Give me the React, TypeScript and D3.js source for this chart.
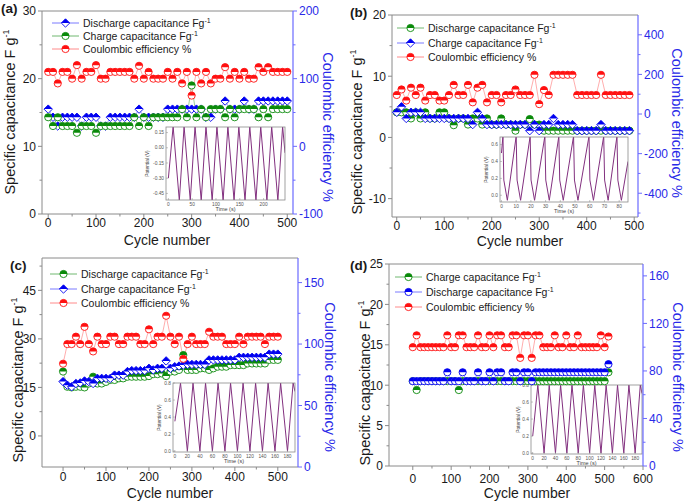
import React from 'react';
import * as d3 from 'd3';

// ---------------- DATA ----------------
const cyclesA = [0,10,20,30,40,50,60,70,80,90,100,110,120,130,140,150,160,170,180,190,200,210,220,230,240,250,260,270,280,290,300,310,320,330,340,350,360,370,380,390,400,410,420,430,440,450,460,470,480,490,500];
const aDischarge = [15.5,14.3,13,14.3,14.3,14.3,14.3,13,14.3,14.3,14.3,13,13,14.3,14.3,14.3,14.3,14.3,14.3,15.5,14.3,14.3,14.3,14.3,14.3,15.5,15.5,15.5,15.5,15.5,15.5,15.5,15.5,14.3,14.3,15.5,15.5,16.7,15.5,15.5,15.5,16.7,15.5,15.5,16.7,16.7,16.7,16.7,16.7,16.7,16.7];
const aCharge = [14.3,13,14.3,13,13,13,12,13,13,13,12,13,13,13,13,13,13,13,14.3,13,14.3,13,14.3,14.3,14.3,14.3,14.3,14.3,15.5,14.3,19,14.3,15.5,14.3,15.5,15.5,15.5,14.3,15.5,14.3,15.5,15.5,15.5,15.5,14.3,15.5,14.3,15.5,15.5,15.5,15.5];
const aCE = [110,110,93,110,110,100,120,100,110,110,120,100,100,110,110,110,110,110,100,119,100,110,100,100,100,110,100,110,93,110,75,110,93,110,93,100,100,117,100,110,100,110,100,100,117,110,117,110,110,110,110];

const cyclesB = [0,10,20,30,40,50,60,70,80,90,100,110,120,130,140,150,160,170,180,190,200,210,220,230,240,250,260,270,280,290,300,310,320,330,340,350,360,370,380,390,400,410,420,430,440,450,460,470,480,490];
const bDischarge = [4.1,4.1,4.1,3.1,4.1,3.1,4.1,3.1,3.1,4.1,4.1,3.1,2.0,3.1,3.1,2.1,3.1,3.1,2.1,3.1,2.1,2.1,3.1,2.1,2.1,1.1,2.1,2.1,3.0,2.1,2.1,1.1,1.1,1.1,1.1,1.1,1.1,1.1,1.1,1.1,1.1,1.1,1.1,1.1,1.1,1.1,1.1,1.1,1.1,1.1];
const bCharge = [4.1,5.0,3.1,4.1,4.1,4.1,3.1,3.1,3.1,3.1,3.1,3.1,3.1,3.1,3.1,3.1,2.1,4.1,3.1,2.1,2.1,2.1,2.1,2.1,2.1,2.1,2.1,2.1,1.1,2.1,1.1,2.1,2.1,3.1,2.1,2.1,2.1,2.1,1.1,1.1,1.1,1.1,1.1,2.1,1.1,1.1,1.1,1.1,1.1,1.1];
const bCE = [96,124,68,133,96,133,68,96,96,68,68,96,147,96,96,147,59,133,147,59,96,96,59,96,96,124,96,96,96,198,50,121,96,198,198,198,198,198,96,96,96,96,96,198,96,96,96,96,96,96];

const cyclesC = [0,10,20,30,40,50,60,70,80,90,100,110,120,130,140,150,160,170,180,190,200,210,220,230,240,250,260,270,280,290,300,310,320,330,340,350,360,370,380,390,400,410,420,430,440,450,460,470,480,490,500];
const cDischarge = [19.9,15.2,15.0,15.2,15.2,15.0,16.2,18.3,16.2,16.2,16.7,17.3,17.3,17.8,17.8,18.3,18.3,18.3,18.3,18.3,18.5,19.1,19.1,19.3,18.5,19.9,19.9,20.4,25.0,20.4,20.4,20.4,20.9,20.9,20.4,20.9,21.4,21.4,21.4,21.9,21.9,21.9,21.9,22.4,22.4,22.4,22.4,22.4,23.5,23.5,23.5];
const cCharge = [16.8,15.7,15.2,16.2,16.4,17.0,16.8,16.2,17.8,17.8,17.8,17.8,18.8,18.8,18.8,19.9,20.2,20.2,20.2,20.2,20.9,20.4,20.9,20.9,23.2,20.9,21.4,21.6,21.9,22.1,22.1,22.1,22.1,22.1,23.5,23.5,23.5,23.5,23.5,23.5,23.5,24.3,24.3,24.3,24.3,24.3,24.3,24.3,25.3,25.3,25.3];
const cCE = [84,100,100,106,100,114,100,94,106,100,100,106,106,100,100,106,106,106,100,100,112,100,106,106,123,106,100,106,88,100,106,100,100,100,110,106,106,106,100,100,100,106,100,106,106,106,106,100,106,106,106];

const cyclesD = [0,10,20,30,40,50,60,70,80,90,100,110,120,130,140,150,160,170,180,190,200,210,220,230,240,250,260,270,280,290,300,310,320,330,340,350,360,370,380,390,400,410,420,430,440,450,460,470,480,490,500,510];
const dCharge = [10.5,9.4,10.5,10.5,10.5,10.5,10.5,10.5,10.5,10.5,10.5,10.5,9.4,10.5,10.5,10.5,10.5,10.5,10.5,10.5,10.5,10.5,10.5,10.5,10.5,10.5,10.5,10.5,10.5,10.5,10.5,10.5,10.5,10.5,10.5,10.5,10.5,10.5,10.5,10.5,10.5,10.5,10.5,10.5,10.5,10.5,10.5,10.5,10.5,10.5,10.5,11.6];
const dDischarge = [10.5,10.5,10.5,10.5,10.5,10.5,10.5,10.5,10.5,11.6,10.5,10.5,10.5,11.6,10.5,10.5,10.5,11.6,10.5,10.5,11.6,10.5,11.6,11.6,10.5,10.5,11.6,11.6,10.5,11.6,11.6,10.5,11.6,11.6,11.6,11.6,11.6,11.6,11.6,11.6,11.6,11.6,11.6,11.6,11.6,11.6,11.6,11.6,11.6,11.6,11.6,12.6];
const dCE = [100,110,100,100,100,100,100,100,100,110,100,100,110,110,100,100,100,110,100,100,110,100,110,110,100,100,110,110,91,110,110,91,110,110,100,100,100,110,100,100,110,100,100,110,100,100,100,100,100,110,100,109];

// inset waveforms (time s, potential V) vertices
const insetAT = [0,10,23,33,46,56,69,79,92,102,115,125,138,148,161,171,184,194,207,217,230,240,245];
const insetAV = [-0.30,0.21,-0.52,0.21,-0.52,0.21,-0.52,0.21,-0.52,0.21,-0.52,0.21,-0.52,0.21,-0.52,0.21,-0.52,0.21,-0.52,0.21,-0.52,0.21,-0.05];
const insetBT = [0,1,1.6,4,10,10.6,13,19.5,20.1,22.5,29.5,30.1,32.5,39,39.6,42,49,49.6,52,59.5,60.1,62.5,69.5,70.1,72.5,78.5,79.1,81.5,86];
const insetBV = [0.5,0.7,0.18,-0.06,0.7,0.18,-0.06,0.7,0.18,-0.06,0.7,0.18,-0.06,0.7,0.18,-0.06,0.7,0.18,-0.06,0.7,0.18,-0.06,0.7,0.18,-0.06,0.7,0.18,-0.06,0.4];
const insetCT = [0,9,20,29,40,49,60,69,80,89,100,109,120,129,140,149,160,169,180,189,192];
const insetCV = [0.35,0.8,0,0.8,0,0.8,0,0.8,0,0.8,0,0.8,0,0.8,0,0.8,0,0.8,0,0.8,0.7];
const insetDT = [0,9,20,29,40,49,60,69,80,89,100,109,120,129,140,149,160,169,180,189,192];
const insetDV = [0.2,0.8,0,0.8,0,0.8,0,0.8,0,0.8,0,0.8,0,0.8,0,0.8,0,0.8,0,0.8,0.7];

// tick label lists
const xTicks500 = [0,100,200,300,400,500];
const xTicks600 = [0,100,200,300,400,500,600];

// ---------------- STYLE ----------------
const FONT = '"Liberation Sans", Arial, sans-serif';
const BLUE = '#0000f0';
const GREEN = '#0a8a0a';
const RED = '#ff1010';
const BLUE_L = '#7a7aff';
const GREEN_L = '#70b870';
const RED_L = '#ff8a8a';
const AXIS_R = '#6a6aff';
const AXIS_R_TXT = '#2a2ae8';
const FRAME = '#8a8a8a';
const PURPLE = '#82307f';

type Series = { name: string; x: number[]; y: number[]; color: string; line: string; shape: 'circle' | 'diamond'; axis: 'L' | 'R' };

function Marker({ cx, cy, color, shape }: { cx: number; cy: number; color: string; shape: string }) {
  if (shape === 'diamond') {
    const w = 4.2, h = 4.2;
    return (
      <g>
        <path d={`M${cx},${cy - h}L${cx + w},${cy}L${cx},${cy + h}L${cx - w},${cy}Z`} fill="#fff" stroke={color} strokeWidth={0.9} />
        <path d={`M${cx - w},${cy}L${cx},${cy - h}L${cx + w},${cy}Z`} fill={color} />
      </g>
    );
  }
  const r = 3.6;
  return (
    <g>
      <circle cx={cx} cy={cy} r={r} fill="#fff" stroke={color} strokeWidth={0.9} />
      <path d={`M${cx - r},${cy}A${r},${r} 0 0 1 ${cx + r},${cy}Z`} fill={color} />
    </g>
  );
}

type Inset = { l: number; r: number; t: number; b: number; xd: [number, number]; yd: [number, number]; xt: number[]; yt: number[]; yfmt: (v: number) => string; T: number[]; V: number[]; id: string; labOff: number };

function InsetChart({ c }: { c: Inset }) {
  const x = d3.scaleLinear().domain(c.xd).range([c.l, c.r]);
  const y = d3.scaleLinear().domain(c.yd).range([c.b, c.t]);
  const pts: [number, number][] = c.T.map((t, i) => [t, c.V[i]]);
  const line = d3.line<[number, number]>().x(d => x(d[0])).y(d => y(d[1]));
  return (
    <g>
      <defs>
        <clipPath id={c.id}><rect x={c.l} y={c.t} width={c.r - c.l} height={c.b - c.t} /></clipPath>
      </defs>
      <path d={line(pts) || ''} fill="none" stroke={PURPLE} strokeWidth={1} clipPath={`url(#${c.id})`} />
      <rect x={c.l} y={c.t} width={c.r - c.l} height={c.b - c.t} fill="none" stroke={FRAME} strokeWidth={0.8} />
      {c.xt.map(v => (
        <g key={'x' + v}>
          <line x1={x(v)} x2={x(v)} y1={c.b} y2={c.b - 2} stroke={FRAME} strokeWidth={0.5} />
          <text x={x(v)} y={c.b + 5.5} fontSize={4.8} textAnchor="middle" fill="#555" fontFamily={FONT}>{v}</text>
        </g>
      ))}
      {c.yt.map(v => (
        <g key={'y' + v}>
          <line x1={c.l} x2={c.l + 2} y1={y(v)} y2={y(v)} stroke={FRAME} strokeWidth={0.5} />
          <text x={c.l - 2} y={y(v) + 1.7} fontSize={4.8} textAnchor="end" fill="#555" fontFamily={FONT}>{c.yfmt(v)}</text>
        </g>
      ))}
      <text x={(c.l + c.r) / 2} y={c.b + 11} fontSize={5.5} textAnchor="middle" fill="#444" fontFamily={FONT}>Time (s)</text>
      <text transform={`translate(${c.l - c.labOff},${(c.t + c.b) / 2}) rotate(-90)`} fontSize={4.8} textAnchor="middle" fill="#444" fontFamily={FONT}>Potential (V)</text>
    </g>
  );
}

type PanelCfg = {
  l: number; r: number; t: number; b: number;
  xd: [number, number]; xt: number[]; xm: number[];
  yLd: [number, number]; yLt: number[]; yLm: number[];
  yRd: [number, number]; yRt: number[]; yRm: number[];
  series: Series[];
  legX: number; legY: number[];
  yLTitle: [number, number]; yRTitle: [number, number]; xTitle: [number, number];
  letter: string; letterPos: [number, number];
  xLabY: number;
  inset: Inset;
};

function Panel({ p }: { p: PanelCfg }) {
  const x = d3.scaleLinear().domain(p.xd).range([p.l, p.r]);
  const yL = d3.scaleLinear().domain(p.yLd).range([p.b, p.t]);
  const yR = d3.scaleLinear().domain(p.yRd).range([p.b, p.t]);
  const ln = (s: Series) => {
    const ys = s.axis === 'L' ? yL : yR;
    return d3.line<number>().x((_, i) => x(s.x[i])).y(v => ys(v))(s.y) || '';
  };
  return (
    <g fontFamily={FONT}>
      <InsetChart c={p.inset} />
      {/* frame */}
      <line x1={p.l} x2={p.r} y1={p.t} y2={p.t} stroke={FRAME} strokeWidth={1} />
      <line x1={p.l} x2={p.r} y1={p.b} y2={p.b} stroke={FRAME} strokeWidth={1} />
      <line x1={p.l} x2={p.l} y1={p.t} y2={p.b} stroke={FRAME} strokeWidth={1} />
      <line x1={p.r} x2={p.r} y1={p.t} y2={p.b} stroke={AXIS_R} strokeWidth={1.2} />
      {/* x ticks */}
      {p.xt.map(v => (
        <g key={'xt' + v}>
          <line x1={x(v)} x2={x(v)} y1={p.b} y2={p.b + 4} stroke={FRAME} />
          <text x={x(v)} y={p.xLabY} fontSize={12} textAnchor="middle" fill="#1a1a1a">{v}</text>
        </g>
      ))}
      {p.xm.map(v => <line key={'xm' + v} x1={x(v)} x2={x(v)} y1={p.b} y2={p.b + 2.5} stroke={FRAME} />)}
      {/* left ticks */}
      {p.yLt.map(v => (
        <g key={'yl' + v}>
          <line x1={p.l - 4} x2={p.l} y1={yL(v)} y2={yL(v)} stroke={FRAME} />
          <text x={p.l - 6} y={yL(v) + 4.3} fontSize={12} textAnchor="end" fill="#1a1a1a">{v}</text>
        </g>
      ))}
      {p.yLm.map(v => <line key={'ylm' + v} x1={p.l - 2.5} x2={p.l} y1={yL(v)} y2={yL(v)} stroke={FRAME} />)}
      {/* right ticks */}
      {p.yRt.map(v => (
        <g key={'yr' + v}>
          <line x1={p.r} x2={p.r + 4} y1={yR(v)} y2={yR(v)} stroke={AXIS_R} />
          <text x={p.r + 6} y={yR(v) + 4.3} fontSize={12} textAnchor="start" fill={AXIS_R_TXT}>{v}</text>
        </g>
      ))}
      {p.yRm.map(v => <line key={'yrm' + v} x1={p.r} x2={p.r + 2.5} y1={yR(v)} y2={yR(v)} stroke={AXIS_R} />)}
      {/* series lines */}
      {p.series.map(s => <path key={'l' + s.name} d={ln(s)} fill="none" stroke={s.line} strokeWidth={0.7} />)}
      {/* markers */}
      {p.series.map(s => (
        <g key={'m' + s.name}>
          {s.y.map((v, i) => (
            <Marker key={i} cx={x(s.x[i])} cy={(s.axis === 'L' ? yL : yR)(v)} color={s.color} shape={s.shape} />
          ))}
        </g>
      ))}
      {/* legend */}
      {p.series.map((s, i) => (
        <g key={'lg' + s.name}>
          <line x1={p.legX} x2={p.legX + 27} y1={p.legY[i]} y2={p.legY[i]} stroke={s.line} strokeWidth={1} />
          <Marker cx={p.legX + 13.5} cy={p.legY[i]} color={s.color} shape={s.shape} />
          <text x={p.legX + 31} y={p.legY[i] + 3.8} fontSize={10.5} fill="#1a1a1a">
            {s.name.endsWith('Fg') ? (<>{s.name}<tspan dy={-4} fontSize={7}>-1</tspan></>) : s.name}
          </text>
        </g>
      ))}
      {/* titles */}
      <text transform={`translate(${p.yLTitle[0]},${p.yLTitle[1]}) rotate(-90)`} fontSize={14.5} textAnchor="middle" fill="#1a1a1a">
        Specific capacitance F g<tspan dy={-6} fontSize={9}>-1</tspan>
      </text>
      <text transform={`translate(${p.yRTitle[0]},${p.yRTitle[1]}) rotate(90)`} fontSize={14.5} textAnchor="middle" fill={AXIS_R_TXT}>
        Coulombic efficiency %
      </text>
      <text x={p.xTitle[0]} y={p.xTitle[1]} fontSize={14} textAnchor="middle" fill="#1a1a1a">Cycle number</text>
      <text x={p.letterPos[0]} y={p.letterPos[1]} fontSize={13.5} fontWeight="bold" fill="#1a1a1a">{p.letter}</text>
    </g>
  );
}

const fmt2 = (v: number) => v.toFixed(2);
const fmt1 = (v: number) => v.toFixed(1);

const panels: PanelCfg[] = [
  {
    l: 42, r: 293, t: 11, b: 214,
    xd: [-13, 512], xt: xTicks500, xm: [50, 150, 250, 350, 450],
    yLd: [0, 30], yLt: [0, 10, 20, 30], yLm: [5, 15, 25],
    yRd: [-100, 200], yRt: [-100, 0, 100, 200], yRm: [-50, 50, 150],
    series: [
      { name: 'Discharge capacitance Fg', x: cyclesA, y: aDischarge, color: BLUE, line: BLUE_L, shape: 'diamond', axis: 'L' },
      { name: 'Charge capacitance Fg', x: cyclesA, y: aCharge, color: GREEN, line: GREEN_L, shape: 'circle', axis: 'L' },
      { name: 'Coulombic efficiency %', x: cyclesA, y: aCE, color: RED, line: RED_L, shape: 'circle', axis: 'R' },
    ],
    legX: 52, legY: [23, 36, 49],
    yLTitle: [15, 112], yRTitle: [323, 127], xTitle: [167, 245],
    letter: '(a)', letterPos: [1, 13], xLabY: 227,
    inset: { l: 166, r: 285, t: 127, b: 200, xd: [-5, 245], yd: [-0.515, 0.205], xt: [0, 50, 100, 150, 200], yt: [0.15, 0, -0.15, -0.30, -0.45], yfmt: fmt2, T: insetAT, V: insetAV, id: 'ia', labOff: 17 },
  },
  {
    l: 392, r: 638, t: 15, b: 217,
    xd: [-10, 508], xt: xTicks500, xm: [50, 150, 250, 350, 450],
    yLd: [-13, 20], yLt: [-10, 0, 10, 20], yLm: [-5, 5, 15],
    yRd: [-520, 500], yRt: [-400, -200, 0, 200, 400], yRm: [-500, -300, -100, 100, 300],
    series: [
      { name: 'Discharge capacitance Fg', x: cyclesB, y: bDischarge, color: GREEN, line: GREEN_L, shape: 'circle', axis: 'L' },
      { name: 'Charge capacitance Fg', x: cyclesB, y: bCharge, color: BLUE, line: BLUE_L, shape: 'diamond', axis: 'L' },
      { name: 'Coulombic efficiency %', x: cyclesB, y: bCE, color: RED, line: RED_L, shape: 'circle', axis: 'R' },
    ],
    legX: 397, legY: [28, 43, 57],
    yLTitle: [362, 132], yRTitle: [672, 123], xTitle: [520, 246],
    letter: '(b)', letterPos: [350, 17], xLabY: 230,
    inset: { l: 500, r: 628, t: 137, b: 202, xd: [-1, 86], yd: [-0.08, 0.69], xt: [0, 10, 20, 30, 40, 50, 60, 70, 80], yt: [0, 0.2, 0.4, 0.6], yfmt: fmt1, T: insetBT, V: insetBV, id: 'ib', labOff: 12 },
  },
  {
    l: 42, r: 298, t: 258, b: 467,
    xd: [-49, 547], xt: xTicks500, xm: [50, 150, 250, 350, 450],
    yLd: [-9.6, 55], yLt: [0, 15, 30, 45], yLm: [7.5, 22.5, 37.5, 52.5],
    yRd: [0, 170], yRt: [0, 50, 100, 150], yRm: [25, 75, 125],
    series: [
      { name: 'Discharge capacitance Fg', x: cyclesC, y: cDischarge, color: GREEN, line: GREEN_L, shape: 'circle', axis: 'L' },
      { name: 'Charge capacitance Fg', x: cyclesC, y: cCharge, color: BLUE, line: BLUE_L, shape: 'diamond', axis: 'L' },
      { name: 'Coulombic efficiency %', x: cyclesC, y: cCE, color: RED, line: RED_L, shape: 'circle', axis: 'R' },
    ],
    legX: 50, legY: [274, 289, 303],
    yLTitle: [23, 380], yRTitle: [325, 377], xTitle: [170, 498],
    letter: '(c)', letterPos: [10, 270], xLabY: 481,
    inset: { l: 173, r: 295, t: 383, b: 452, xd: [-3, 192], yd: [-0.01, 0.8], xt: [0, 20, 40, 60, 80, 100, 120, 140, 160, 180], yt: [0, 0.2, 0.4, 0.6, 0.8], yfmt: fmt1, T: insetCT, V: insetCV, id: 'ic', labOff: 12 },
  },
  {
    l: 389, r: 643, t: 264, b: 466,
    xd: [-62, 600], xt: xTicks600, xm: [50, 150, 250, 350, 450, 550],
    yLd: [0, 25], yLt: [0, 5, 10, 15, 20, 25], yLm: [2.5, 7.5, 12.5, 17.5, 22.5],
    yRd: [0, 170], yRt: [0, 40, 80, 120, 160], yRm: [20, 60, 100, 140],
    series: [
      { name: 'Charge capacitance Fg', x: cyclesD, y: dCharge, color: GREEN, line: GREEN_L, shape: 'circle', axis: 'L' },
      { name: 'Discharge capacitance Fg', x: cyclesD, y: dDischarge, color: BLUE, line: BLUE_L, shape: 'circle', axis: 'L' },
      { name: 'Coulombic efficiency %', x: cyclesD, y: dCE, color: RED, line: RED_L, shape: 'circle', axis: 'R' },
    ],
    legX: 395, legY: [277, 292, 307],
    yLTitle: [370, 383], yRTitle: [673, 377], xTitle: [527, 498],
    letter: '(d)', letterPos: [350, 270], xLabY: 483,
    inset: { l: 531, r: 642, t: 385, b: 454, xd: [-3, 192], yd: [-0.01, 0.8], xt: [0, 20, 40, 60, 80, 100, 120, 140, 160, 180], yt: [0, 0.2, 0.4, 0.6, 0.8], yfmt: fmt1, T: insetDT, V: insetDV, id: 'id', labOff: 11 },
  },
];

export default function App() {
  return (
    <svg width={685} height={502} style={{ position: 'absolute', left: 0, top: 0, background: '#fff' }}>
      <rect x={0} y={0} width={685} height={502} fill="#fff" />
      {panels.map((p, i) => <Panel key={i} p={p} />)}
    </svg>
  );
}
